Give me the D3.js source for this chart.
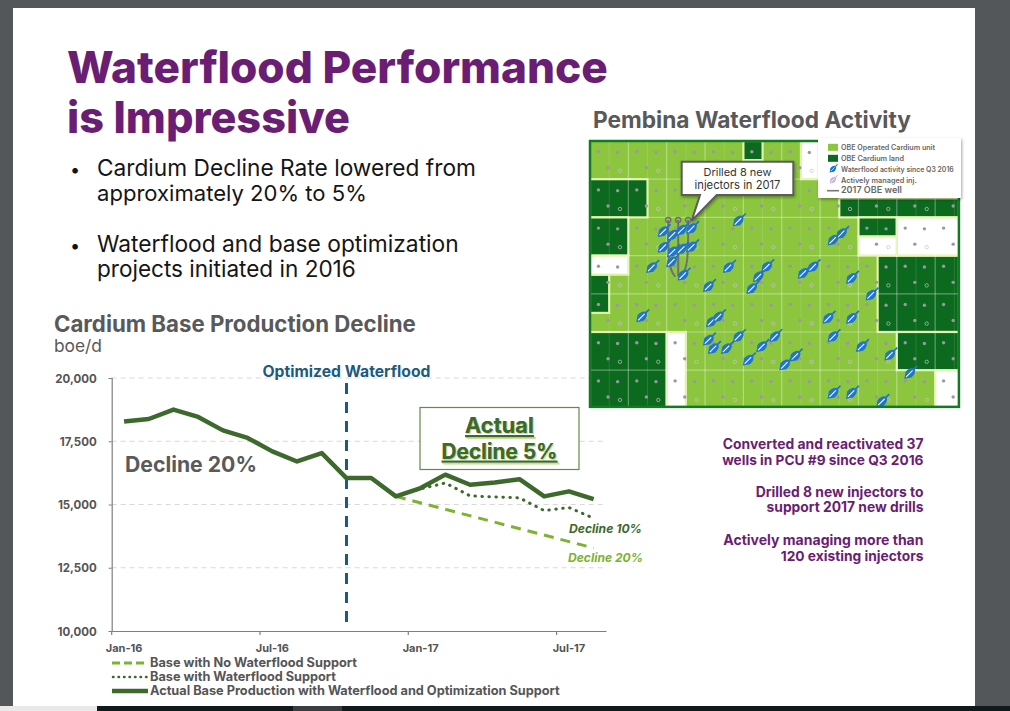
<!DOCTYPE html>
<html><head><meta charset="utf-8">
<script src="https://cdn.jsdelivr.net/npm/d3@7"></script>
<style>html,body{margin:0;padding:0;background:#53575a;overflow:hidden}svg{display:block}</style>
</head><body><svg id="c" width="1010" height="711"></svg>
<script>
// ---------------- DATA ----------------
const months = ["Jan-16","Feb-16","Mar-16","Apr-16","May-16","Jun-16","Jul-16","Aug-16","Sep-16","Oct-16","Nov-16","Dec-16",
                "Jan-17","Feb-17","Mar-17","Apr-17","May-17","Jun-17","Jul-17","Aug-17"];
const actualValues = [18280,18380,18750,18460,17930,17630,17100,16700,17030,16045,16045,15320,15650,16180,15780,15870,16000,15320,15520,15210];
const waterfloodMonths = ["Dec-16","Jan-17","Feb-17","Mar-17","Apr-17","May-17","Jun-17","Jul-17","Aug-17"];
const waterfloodValues = [15320,15620,15850,15340,15300,15260,14760,14880,14460];
const noWaterfloodMonths = ["Dec-16","Aug-17"];
const noWaterfloodValues = [15320,13280];
const optimizedMonth = "Oct-16";
const yTicks = [10000,12500,15000,17500,20000];
const xTickLabels = ["Jan-16","Jul-16","Jan-17","Jul-17"];
const legendLabels = ["Base with No Waterflood Support","Base with Waterflood Support","Actual Base Production with Waterflood and Optimization Support"];

// map decoration (grid-cell units)
const darkRegions = [[0,1,1.5,2],[0,2,1,3],[0,3.5,0.5,4.5],[0,5,2,7],[4,0,4.5,0.5],[6.5,1.5,9.62,2],[7,2,8,2.5],[7.5,3,9.62,5],[8,5,9.62,6]];
const whiteRegions = [[0,3,1,3.5],[2,5,2.5,7],[5.5,0,6,1],[8,2,9.62,3],[7,2.5,8,3],[9,6,9.62,7]];
const injectorsNew = [[3.87,2.09],[6.56,2.42],[6.34,2.59],[1.91,2.37],[2.15,2.46],[2.39,2.33],[2.65,2.29],[1.91,2.78],[2.15,2.90],[2.39,2.83],[2.65,2.77],
  [2.13,3.16],[2.43,3.51],[1.61,3.31],[3.61,3.31],[4.61,3.29],[4.39,3.55],[4.22,3.86],[3.09,3.81],[5.56,3.46],[5.82,3.29],[6.82,3.59],[7.33,4.03],
  [1.35,4.60],[3.17,4.73],[3.35,4.60],[3.87,5.12],[3.09,5.21],[3.22,5.43],[3.56,5.43],[4.48,5.38],[4.82,5.12],[5.35,5.63],[5.08,5.86],[4.13,5.73],
  [6.34,5.12],[6.21,4.64],[6.82,4.64],[7.08,5.38],[7.82,5.60],[8.34,6.08],[6.34,6.60],[6.82,6.60],[7.61,6.82]];
const mapLegend = ["OBE Operated Cardium unit","OBE Cardium land","Waterflood activity since Q3 2016","Actively managed inj.","2017 OBE well"];

// ---------------- HELPERS ----------------
const FONT = "Inter, 'Noto Sans', 'DejaVu Sans', sans-serif";
const svg = d3.select("#c");
function T(p, x, y, s, o = {}) {
  const size = o.size || 12;
  const t = p.append("text").attr("x", x).attr("y", y).text(s)
    .attr("font-family", o.family || FONT).attr("font-size", size)
    .attr("font-weight", o.weight || 400).attr("fill", o.fill || "#333")
    .attr("text-anchor", o.anchor || "start");
  if (o.style) t.attr("font-style", o.style);
  if (o.deco) t.attr("text-decoration", o.deco);
  if (o.width) { const w = t.node().getComputedTextLength(); if (w > 0) t.attr("font-size", size * o.width / w); }
  return t;
}

// ---------------- PAGE ----------------
svg.append("rect").attr("width",1010).attr("height",711).attr("fill","#53575a");
svg.append("rect").attr("x",13).attr("y",8).attr("width",962).attr("height",698).attr("fill","#ffffff");
svg.append("rect").attr("x",0).attr("y",706).attr("width",97).attr("height",5).attr("fill","#e9e9e9");
svg.append("rect").attr("x",97).attr("y",706).attr("width",913).attr("height",5).attr("fill","#0e1a1b");
svg.append("rect").attr("x",293).attr("y",706).attr("width",49).attr("height",5).attr("fill","#3a3d3f");

const PURPLE = "#6a1e73", GREY = "#58595b";
T(svg, 67, 83, "Waterflood Performance", {size:44, weight:800, fill:PURPLE, width:541});
T(svg, 67, 133, "is Impressive", {size:44, weight:800, fill:PURPLE, width:283});

T(svg, 70, 176, "•", {size:18, fill:"#111"});
T(svg, 97, 176, "Cardium Decline Rate lowered from", {size:20, fill:"#151515", width:379});
T(svg, 97, 201, "approximately 20% to 5%", {size:20, fill:"#151515", width:270});
T(svg, 70, 252, "•", {size:18, fill:"#111"});
T(svg, 97, 252, "Waterflood and base optimization", {size:20, fill:"#151515", width:362});
T(svg, 97, 277, "projects initiated in 2016", {size:20, fill:"#151515", width:259});

T(svg, 54, 332, "Cardium Base Production Decline", {size:19, weight:700, fill:GREY, width:362});
T(svg, 54, 352, "boe/d", {size:15, fill:GREY, width:48});

T(svg, 593, 128, "Pembina Waterflood Activity", {size:20, weight:700, fill:GREY, width:318});

// right texts
const rt = [["Converted and reactivated 37",449,201],["wells in PCU #9 since Q3 2016",465,201.5],
            ["Drilled 8 new injectors to",497,168],["support 2017 new drills",512,157],
            ["Actively managing more than",545,200.5],["120 existing injectors",561,143]];
rt.forEach(r => T(svg, 923.5, r[1], r[0], {size:13, weight:700, fill:PURPLE, anchor:"end", width:r[2]}));

// ---------------- CHART ----------------
const DG = "#3d6a2c", LG = "#7cb331", BLUE = "#1d5a7e";
const x = d3.scaleBand().domain(months).range([111.7, 606]);
const bw = x.bandwidth();
const xc = m => x(m) + bw / 2;
const y = d3.scaleLinear().domain([10000, 20000]).range([631, 378]);
const chart = svg.append("g");

// grid
chart.selectAll(".grid").data(yTicks.filter(d => d > 10000)).join("line")
  .attr("x1", 111.7).attr("x2", 606).attr("y1", d => y(d)).attr("y2", d => y(d))
  .attr("stroke", "#d9d9d9").attr("stroke-width", 1).attr("stroke-dasharray", "5,4");

// y axis
const ya = chart.append("g").attr("transform", "translate(111.7,0)")
  .call(d3.axisLeft(y).tickValues(yTicks).tickFormat(d3.format(",")).tickSize(3).tickPadding(12));
ya.select(".domain").attr("stroke", "#7f7f7f").attr("stroke-width", 1.2);
ya.selectAll(".tick line").attr("stroke", "#7f7f7f");
ya.selectAll("text").attr("font-family", FONT).attr("font-weight", 700).attr("font-size", 11.5).attr("fill", "#555").attr("dy", "0.35em");

// x axis
const xa = chart.append("g").attr("transform", "translate(0,631)")
  .call(d3.axisBottom(x).tickValues(xTickLabels).tickSize(0).tickPadding(13));
xa.select(".domain").attr("stroke", "#7f7f7f").attr("stroke-width", 1.2);
xa.selectAll("text").attr("font-family", FONT).attr("font-weight", 700).attr("font-size", 11).attr("fill", "#555");
chart.selectAll(".xt").data(xTickLabels).join("line")
  .attr("x1", d => x(d)).attr("x2", d => x(d)).attr("y1", 631).attr("y2", 635)
  .attr("stroke", "#7f7f7f").attr("stroke-width", 1.2);

// optimized waterflood vertical
chart.append("line").attr("x1", xc(optimizedMonth)).attr("x2", xc(optimizedMonth))
  .attr("y1", 383).attr("y2", 624).attr("stroke", BLUE).attr("stroke-width", 3).attr("stroke-dasharray", "11,8");
T(chart, xc(optimizedMonth), 377, "Optimized Waterflood", {size:13, weight:700, fill:BLUE, anchor:"middle", width:168});

const line = d3.line().x(d => xc(d.m)).y(d => y(d.v));
const actual = months.map((m, i) => ({m, v: actualValues[i]}));
const wf = waterfloodMonths.map((m, i) => ({m, v: waterfloodValues[i]}));
const nwf = noWaterfloodMonths.map((m, i) => ({m, v: noWaterfloodValues[i]}));

chart.append("path").attr("d", line(nwf)).attr("fill", "none").attr("stroke", LG)
  .attr("stroke-width", 3).attr("stroke-dasharray", "10,7");
chart.append("path").attr("d", line(wf)).attr("fill", "none").attr("stroke", DG)
  .attr("stroke-width", 3).attr("stroke-dasharray", "0.5,6.5").attr("stroke-linecap", "round");
chart.append("path").attr("d", line(actual)).attr("fill", "none").attr("stroke", DG)
  .attr("stroke-width", 4.5).attr("stroke-linejoin", "round");

T(chart, 125, 472, "Decline 20%", {size:20, weight:700, fill:"#5a5a5a", width:132});

// actual box
chart.append("rect").attr("x", 420).attr("y", 407.5).attr("width", 159).attr("height", 62)
  .attr("fill", "#fff").attr("stroke", "#5f8a4a").attr("stroke-width", 1.2);
T(chart, 499.5, 433, "Actual", {size:20, weight:700, fill:DG, anchor:"middle", width:69, deco:"underline"})
  .style("text-shadow", "1px 1px 0 #c9dfa0");
T(chart, 499.5, 458.5, "Decline 5%", {size:20, weight:700, fill:DG, anchor:"middle", width:116, deco:"underline"})
  .style("text-shadow", "1px 1px 0 #c9dfa0");

T(chart, 569, 532.5, "Decline 10%", {size:11, weight:700, style:"italic", fill:DG, width:73});
T(chart, 568, 561.5, "Decline 20%", {size:11, weight:700, style:"italic", fill:LG, width:75});

// chart legend
const lg = chart.append("g");
const lgY = [663, 677, 691];
lg.append("line").attr("x1",112).attr("x2",148).attr("y1",lgY[0]).attr("y2",lgY[0]).attr("stroke",LG).attr("stroke-width",3).attr("stroke-dasharray","8,4");
lg.append("line").attr("x1",113).attr("x2",148).attr("y1",lgY[1]).attr("y2",lgY[1]).attr("stroke",DG).attr("stroke-width",2.5).attr("stroke-dasharray","0.5,5").attr("stroke-linecap","round");
lg.append("line").attr("x1",112).attr("x2",148).attr("y1",lgY[2]).attr("y2",lgY[2]).attr("stroke",DG).attr("stroke-width",4.5);
const lgW = [207, 186, 410];
legendLabels.forEach((s, i) => T(lg, 150, lgY[i] + 4, s, {size:11, weight:700, fill:"#555", width:lgW[i]}));

// ---------------- MAP ----------------
const mx = d3.scaleLinear().domain([0, 1]).range([590, 628.35]);
const my = d3.scaleLinear().domain([0, 1]).range([141, 179.2]);
const MAPW = 9.62, MAPH = 6.96;
const defs = svg.append("defs");
defs.append("clipPath").attr("id", "mapclip").append("rect")
  .attr("x", mx(0)).attr("y", my(0)).attr("width", mx(MAPW) - mx(0)).attr("height", my(MAPH) - my(0));
const sh = defs.append("filter").attr("id", "sh").attr("x", "-20%").attr("y", "-20%").attr("width", "140%").attr("height", "150%");
sh.append("feDropShadow").attr("dx", 1).attr("dy", 1.5).attr("stdDeviation", 1.5).attr("flood-color", "#000").attr("flood-opacity", 0.35);

const map = svg.append("g").attr("clip-path", "url(#mapclip)");
const LIGHT = "#8cc63e", DARK = "#0b6a1d", PALE = "#def3a6";
map.append("rect").attr("x", mx(0)).attr("y", my(0)).attr("width", mx(MAPW) - mx(0)).attr("height", my(MAPH) - my(0)).attr("fill", LIGHT);
const rectR = (sel, data, fill) => sel.selectAll(null).data(data).join("rect")
  .attr("x", d => mx(d[0])).attr("y", d => my(d[1])).attr("width", d => mx(d[2]) - mx(d[0])).attr("height", d => my(d[3]) - my(d[1]))
  .attr("fill", fill).attr("stroke", PALE).attr("stroke-width", 2.2);
rectR(map, darkRegions, DARK);
rectR(map, whiteRegions, "#ffffff");

// grid lines
d3.range(1, 10).forEach(c => map.append("line").attr("x1", mx(c)).attr("x2", mx(c)).attr("y1", my(0)).attr("y2", my(MAPH))
  .attr("stroke", "#ffffff").attr("stroke-opacity", 0.35).attr("stroke-width", 1.2));
d3.range(1, 7).forEach(r => map.append("line").attr("x1", mx(0)).attr("x2", mx(MAPW)).attr("y1", my(r)).attr("y2", my(r))
  .attr("stroke", "#ffffff").attr("stroke-opacity", 0.35).attr("stroke-width", 1.2));
d3.range(0, 10).forEach(c => map.append("line").attr("x1", mx(c + 0.5)).attr("x2", mx(c + 0.5)).attr("y1", my(0)).attr("y2", my(MAPH))
  .attr("stroke", "#ffffff").attr("stroke-opacity", 0.12).attr("stroke-width", 1));

// well dots and small icons (regular layout)
const dotOffsets = [[0.22,0.28],[0.72,0.3],[0.47,0.7]];
const cells = [];
d3.range(0, 10).forEach(c => d3.range(0, 7).forEach(r => cells.push([c, r])));
cells.forEach(([c, r]) => {
  dotOffsets.forEach(o => map.append("circle").attr("cx", mx(c + o[0])).attr("cy", my(r + o[1])).attr("r", 1.7).attr("fill", "#9d96a4"));
  map.append("circle").attr("cx", mx(c + 0.78)).attr("cy", my(r + 0.78)).attr("r", 1.7)
    .attr("fill", "none").attr("stroke", "#c7c1cf").attr("stroke-width", 0.7);
});

// 2017 wells (U shapes)
const wellG = map.append("g").attr("fill", "none").attr("stroke", "#707070").attr("stroke-width", 2);
const wells = [
  [[2.04,2.07],[2.04,3.3],[2.22,3.55]],
  [[2.30,2.07],[2.30,3.55]],
  [[2.56,2.07],[2.56,3.3],[2.37,3.55]]
];
const wl = d3.line().x(d => mx(d[0])).y(d => my(d[1])).curve(d3.curveBasis);
wells.forEach(w => {
  wellG.append("path").attr("d", wl(w));
  wellG.append("circle").attr("cx", mx(w[0][0])).attr("cy", my(w[0][1])).attr("r", 2.6).attr("stroke-width", 1.4);
});

// injector arrows
function arrow(p, cx, cy, color, s = 1) {
  const g = p.append("g").attr("transform", `translate(${cx},${cy}) rotate(135) scale(${s})`);
  g.append("line").attr("x1", -4).attr("x2", -8).attr("y1", 0).attr("y2", 0).attr("stroke", color).attr("stroke-width", 1.3);
  g.append("path").attr("d", "M6,0 L1.5,-3.2 Q-4,-3.4 -5,0 Q-4,3.4 1.5,3.2 Z").attr("fill", color);
  g.append("line").attr("x1", -3).attr("x2", 4).attr("y1", 0).attr("y2", 0).attr("stroke", "#ffffff").attr("stroke-width", 0.8);
}
injectorsNew.forEach(d => arrow(map, mx(d[0]), my(d[1]), "#1f74cc", 1.3));

// map border
svg.append("rect").attr("x", mx(0)).attr("y", my(0)).attr("width", mx(MAPW) - mx(0)).attr("height", my(MAPH) - my(0))
  .attr("fill", "none").attr("stroke", "#127a22").attr("stroke-width", 2.5);

// callout
const callout = svg.append("g");
callout.append("path")
  .attr("d", `M681.7,161.7 H793.3 V195 H716.7 L691.7,220.7 L700,195 H681.7 Z`)
  .attr("fill", "#fff").attr("stroke", "#5b5b5b").attr("stroke-width", 2).attr("filter", "url(#sh)");
T(callout, 737.5, 176, "Drilled 8 new", {size:11, fill:"#333", anchor:"middle", width:68});
T(callout, 737.5, 189, "injectors in 2017", {size:11, fill:"#333", anchor:"middle", width:86});

// map legend
const ml = svg.append("g");
ml.append("rect").attr("x", 818).attr("y", 138).attr("width", 143).attr("height", 60).attr("fill", "#fff").attr("filter", "url(#sh)");
const mlY = [147.3, 158.3, 169, 180, 190.7];
const mlW = [94, 63, 113, 76, 61];
ml.append("rect").attr("x", 828).attr("y", mlY[0] - 3.5).attr("width", 10).attr("height", 7).attr("fill", LIGHT);
ml.append("rect").attr("x", 828).attr("y", mlY[1] - 3.5).attr("width", 10).attr("height", 7).attr("fill", DARK);
arrow(ml, 833, mlY[2], "#1f74cc", 0.8);
arrow(ml, 833, mlY[3], "#c8b6e0", 0.8);
ml.append("line").attr("x1", 827).attr("x2", 839).attr("y1", mlY[4]).attr("y2", mlY[4]).attr("stroke", "#777").attr("stroke-width", 1.6);
mapLegend.forEach((s, i) => T(ml, 841, mlY[i] + 2.5, s, {size:7, weight:600, fill:"#666", width:mlW[i]}));
</script></body></html>
